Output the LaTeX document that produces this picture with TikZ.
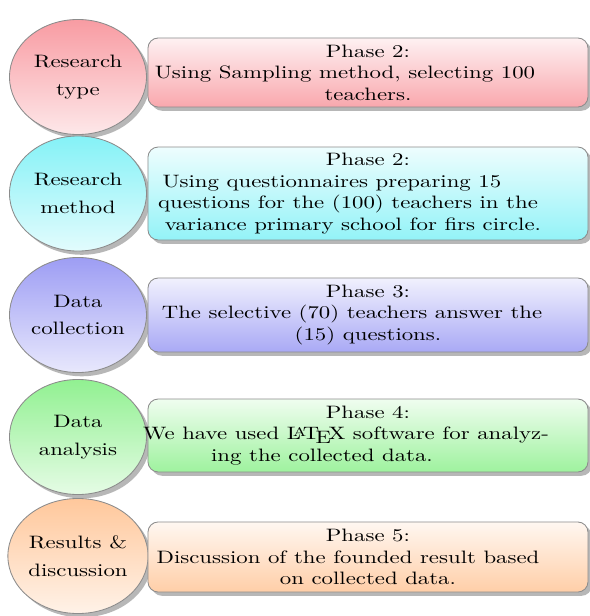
\documentclass[tikz,border=0pt]{standalone}
\usetikzlibrary{shadows,shapes.geometric}
\definecolor{cred}{HTML}{F78A92}
\definecolor{ccyan}{HTML}{6FEFF5}
\definecolor{cblue}{HTML}{8C8CF2}
\definecolor{cgreen}{HTML}{7EEE7E}
\definecolor{corange}{HTML}{FFBE8A}
\newcommand\padl[1]{\kern-#1pt\relax}
\tikzset{
  module/.style={ellipse, draw=black!45, line width=0.5pt, minimum width=63.1pt,
    minimum height=67.3pt, inner sep=0pt,
    align=center, transform shape, top color=#1!85, bottom color=#1!20,
    font=\fontsize{10.5}{12.6}\selectfont,
    drop shadow={shadow xshift=2.2pt, shadow yshift=-2.2pt, fill=black!35, opacity=0.8}},
  desc/.style={rectangle, rounded corners=6pt, draw=black!45, line width=0.5pt,
    minimum width=202.7pt, inner sep=0pt, align=center, transform shape,
    top color=#1!12, bottom color=#1!75,
    font=\fontsize{10.5}{12.6}\selectfont,
    drop shadow={shadow xshift=2.2pt, shadow yshift=-2.2pt, fill=black!35, opacity=0.8}},
}
\begin{document}
\begin{tikzpicture}[x=0.4606pt, y=-0.585pt, xscale=1.27]
\useasboundingbox (0,0) rectangle (590,616);
\fill[white] (0,0) rectangle (590,616);
% modules
\node[module=cred]    (m1) at (78,77)    {Research\\[3.5pt]type};
\node[module=ccyan]   (m2) at (78,193.5) {Research\\[3.5pt]method};
\node[module=cblue]   (m3) at (78,315)   {Data\\[3.5pt]collection};
\node[module=cgreen]  (m4) at (78,437)   {Data\\[3.5pt]analysis};
\node[module=corange] (m5) at (78,556)   {Results \&\\[3.5pt]discussion};
% descriptions
\node[desc=cred, minimum height=40.4pt]    (d1) at (368,72.5)
  {Phase 2:\\\padl{21.2}Using Sampling method, selecting 100\\teachers.};
\node[desc=ccyan, minimum height=54.4pt]   (d2) at (368,193.5)
  {Phase 2:\\\padl{33.2}Using questionnaires preparing 15\\\padl{18.4}questions for the (100) teachers in the\\\padl{13.8}variance primary school for firs circle.};
\node[desc=cblue, minimum height=43.3pt]   (d3) at (368,315)
  {Phase 3:\\\padl{14.7}The selective (70) teachers answer the\\(15) questions.};
\node[desc=cgreen, minimum height=42.7pt]  (d4) at (368,435.5)
  {Phase 4:\\\padl{20.3}We have used \LaTeX{} software for analyz-\\\padl{42.4}ing the collected data.};
\node[desc=corange, minimum height=41pt]   (d5) at (368,557)
  {Phase 5:\\\padl{18.4}Discussion of the founded result based\\on collected data.};
\end{tikzpicture}
\end{document}
